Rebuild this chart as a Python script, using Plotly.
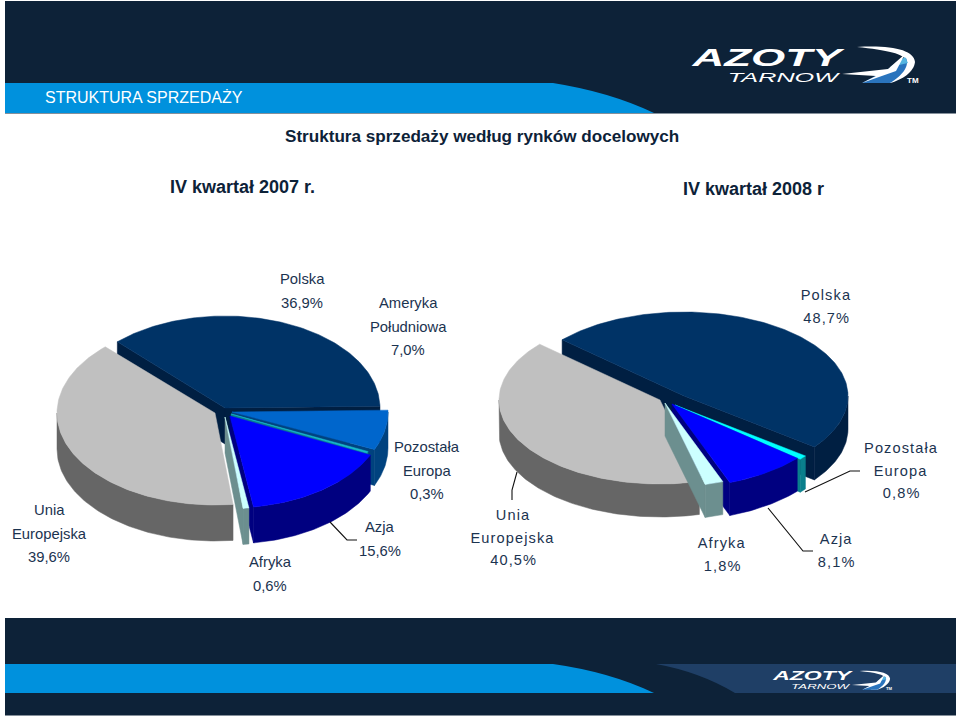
import json
import math
import plotly.graph_objects as go

# ---- data ----
categories = ["Polska", "Ameryka Południowa", "Pozostała Europa", "Azja", "Afryka", "Unia Europejska"]
values_2007 = [36.9, 7.0, 0.3, 15.6, 0.6, 39.6]
values_2008 = [48.7, 0.0, 0.8, 8.1, 1.8, 40.5]

title_main = "Struktura sprzedaży według rynków docelowych"
title_2007 = "IV kwartał 2007 r."
title_2008 = "IV kwartał 2008 r"
section = "STRUKTURA SPRZEDAŻY"

# ---- style ----
TOP = ["#003366", "#0066cc", "#19b8cc", "#0000ff", "#ccffff", "#c0c0c0"]
WALL = ["#001f42", "#00427f", "#0a7f8c", "#000080", "#6c8f8f", "#666666"]
TOP_R = TOP[:2] + ["#00ffff"] + TOP[3:]
NAVY = "#0d2238"
INK = "#1b3350"
SANS = "Liberation Sans"

# centre x, centre y, rx per slice
LEFT = dict(start=-44, ry=92, depth=36, colors=TOP,
            geo=[(225, 408, 155), (232, 412, 156), (231, 414, 150), (230, 416, 155), (225, 417, 158), (215, 413, 158)])
RIGHT = dict(start=-48, ry=84, depth=33, colors=TOP_R,
             geo=[(684, 396, 164), (684, 396, 164), (675, 405, 164), (672, 404, 164), (665, 403, 164), (660, 400, 161)])


def pt(cx, cy, rx, ry, t, dy=0):
    a = math.radians(t)
    return cx + rx * math.sin(a), cy - ry * math.cos(a) + dy


def arc(cx, cy, rx, ry, a, b, dy=0):
    n = max(2, int(abs(b - a)) + 2)
    return [pt(cx, cy, rx, ry, a + (b - a) * i / (n - 1), dy) for i in range(n)]


def poly(fig, pts, color):
    fig.add_trace(go.Scatter(x=[p[0] for p in pts] + [pts[0][0]], y=[p[1] for p in pts] + [pts[0][1]],
                             mode="lines", fill="toself", fillcolor=color,
                             line=dict(color=color, width=0.5), hoverinfo="skip", showlegend=False))


def pie3d(fig, values, cfg):
    ry, d = cfg["ry"], cfg["depth"]
    angle = cfg["start"]
    spans = []
    for v in values:
        spans.append((angle, angle + v * 3.6))
        angle += v * 3.6
    for i in [0, 1, 2, 3, 5, 4]:
        if values[i] <= 0:
            continue
        t0, t1 = spans[i]
        cx, cy, rx = cfg["geo"][i]
        wall, top = WALL[i], cfg["colors"][i]
        for t, visible in ((t0, math.sin(math.radians(t0)) < 0), (t1, math.sin(math.radians(t1)) > 0)):
            if visible:
                x, y = pt(cx, cy, rx, ry, t)
                poly(fig, [(cx, cy), (x, y), (x, y + d), (cx, cy + d)], wall)
        a, b = max(t0, 90), min(t1, 270)
        if b > a:
            poly(fig, arc(cx, cy, rx, ry, a, b) + arc(cx, cy, rx, ry, b, a, d), wall)
        poly(fig, [(cx, cy)] + arc(cx, cy, rx, ry, t0, t1), top)


def pct(v):
    return f"{v:.1f}".replace(".", ",") + "%"


fig = go.Figure()
pie3d(fig, values_2007, LEFT)
pie3d(fig, values_2008, RIGHT)

ann = []
css = {}


def text(x, y, s, size=14.8, color=INK, font=SANS, bold=False, italic=False, anchor="center", style=None):
    if style:
        css[len(ann)] = style
    if bold:
        s = f"<b>{s}</b>"
    if italic:
        s = f"<i>{s}</i>"
    ann.append(dict(x=x, y=y, text=s, showarrow=False, xanchor=anchor, yanchor="middle",
                    font=dict(family=font, size=size, color=color)))


def label(x, y, lines, step=23.5, **kw):
    for k, s in enumerate(lines):
        text(x, y + k * step, s, **kw)


label(302, 279, [categories[0], pct(values_2007[0])])
label(408, 303, ["Ameryka", "Południowa", pct(values_2007[1])])
label(427, 447, ["Pozostała", "Europa", pct(values_2007[2])])
label(380, 527, [categories[3], pct(values_2007[3])])
label(270, 562, [categories[4], pct(values_2007[4])])
label(49, 510, ["Unia", "Europejska", pct(values_2007[5])])

R = dict(size=14.6, step=22.5, style="letter-spacing:1.1px")
label(826, 295, [categories[0], pct(values_2008[0])], **R)
label(901, 448, ["Pozostała", "Europa", pct(values_2008[2])], **R)
label(836, 539, [categories[3], pct(values_2008[3])], **R)
label(722, 543, [categories[4], pct(values_2008[4])], **R)
label(513, 515, ["Unia", "Europejska", pct(values_2008[5])], **R)

text(43, 97, section, size=16, color="white", anchor="left")
text(482, 136, title_main, size=17.1, color=NAVY, bold=True)
text(242, 187, title_2007, size=18, color=NAVY, bold=True)
text(753, 189, title_2008, size=18, color=NAVY, bold=True)

shapes = []


def rect(x0, y0, x1, y1, c):
    shapes.append(dict(type="rect", x0=x0, y0=y0, x1=x1, y1=y1, fillcolor=c, line=dict(width=0), layer="below"))


def path(d, c, layer="below"):
    shapes.append(dict(type="path", path=d, fillcolor=c, line=dict(width=0), layer=layer))


def leader(points):
    d = "M " + " L ".join(f"{x},{y}" for x, y in points)
    shapes.append(dict(type="path", path=d, line=dict(color="#111111", width=1.1), layer="above"))


rect(5, 1, 956, 113.5, NAVY)
path("M 5,83 L 553,83 Q 610,92 654,113 L 5,113 Z", "#0091dd")
rect(5, 618, 956, 715.5, NAVY)
path("M 5,664 L 553,664 Q 610,672 654,693 L 5,693 Z", "#0091dd")
path("M 656,664 L 956,664 L 956,693 L 735,693 Q 700,672 656,664 Z", "#1f3f66")

leader([(330, 522), (347, 540), (357, 540)])
leader([(517, 472), (512, 490), (512, 500)])
leader([(805, 492), (850, 471), (860, 471)])
leader([(768, 508), (803, 551), (813, 551)])


def logo(ox, oy, s):
    def P(d):
        out = []
        for tok in d.split():
            if "," in tok:
                a, b = tok.split(",")
                out.append(f"{ox + float(a) * s:.1f},{oy + float(b) * s:.1f}")
            else:
                out.append(tok)
        return " ".join(out)
    path(P("M 165,17 C 200,15 222,20 223,32 C 222,42 210,50 198,53 L 185,53 C 200,46 214,38 214,31 C 213,24 195,20 165,17 Z"), "white")
    path(P("M 170,53 L 196,39 L 214,28 C 218,36 210,46 198,53 Z"), "#2a74bd")
    path(P("M 198,37 L 213,27 L 216,33 Z"), "#55b5e0")
    path(P("M 150,44 L 196,39 L 213,24 L 204,41 L 170,53 L 184,46 Z"), "white")
    scale = "transform-box:fill-box;transform-origin:center;transform:scaleX(%s)"
    text(ox + 76 * s, oy + 27.5 * s, "AZOTY", size=24 * s, color="white", bold=True, italic=True, style=scale % 1.83)
    text(ox + 92 * s, oy + 47.5 * s, "TARNOW", size=13.5 * s, color="white", italic=True, style=scale % 1.87)
    text(ox + 221 * s, oy + 50 * s, "TM", size=8 * s, color="white", bold=True)


logo(692, 30, 1.0)
logo(773, 662, 0.525)

fig.update_layout(
    width=960, height=717, margin=dict(l=0, r=0, t=0, b=0),
    paper_bgcolor="white", plot_bgcolor="white", showlegend=False,
    xaxis=dict(range=[0, 960], visible=False, fixedrange=True),
    yaxis=dict(range=[717, 0], visible=False, fixedrange=True),
    shapes=shapes, annotations=ann,
)
post = (
    "document.documentElement.style.margin='0';document.body.style.margin='0';"
    "document.body.style.overflow='hidden';"
    "var css=" + json.dumps(css) + ";"
    "Object.keys(css).forEach(function(i){"
    "var t=document.querySelector('.annotation[data-index=\"'+i+'\"] text');"
    "if(t){t.style.cssText+=';'+css[i];}});"
    "window.dispatchEvent(new Event('resize'));"
)
fig.write_html("out.html", config={"displayModeBar": False}, post_script=post)
